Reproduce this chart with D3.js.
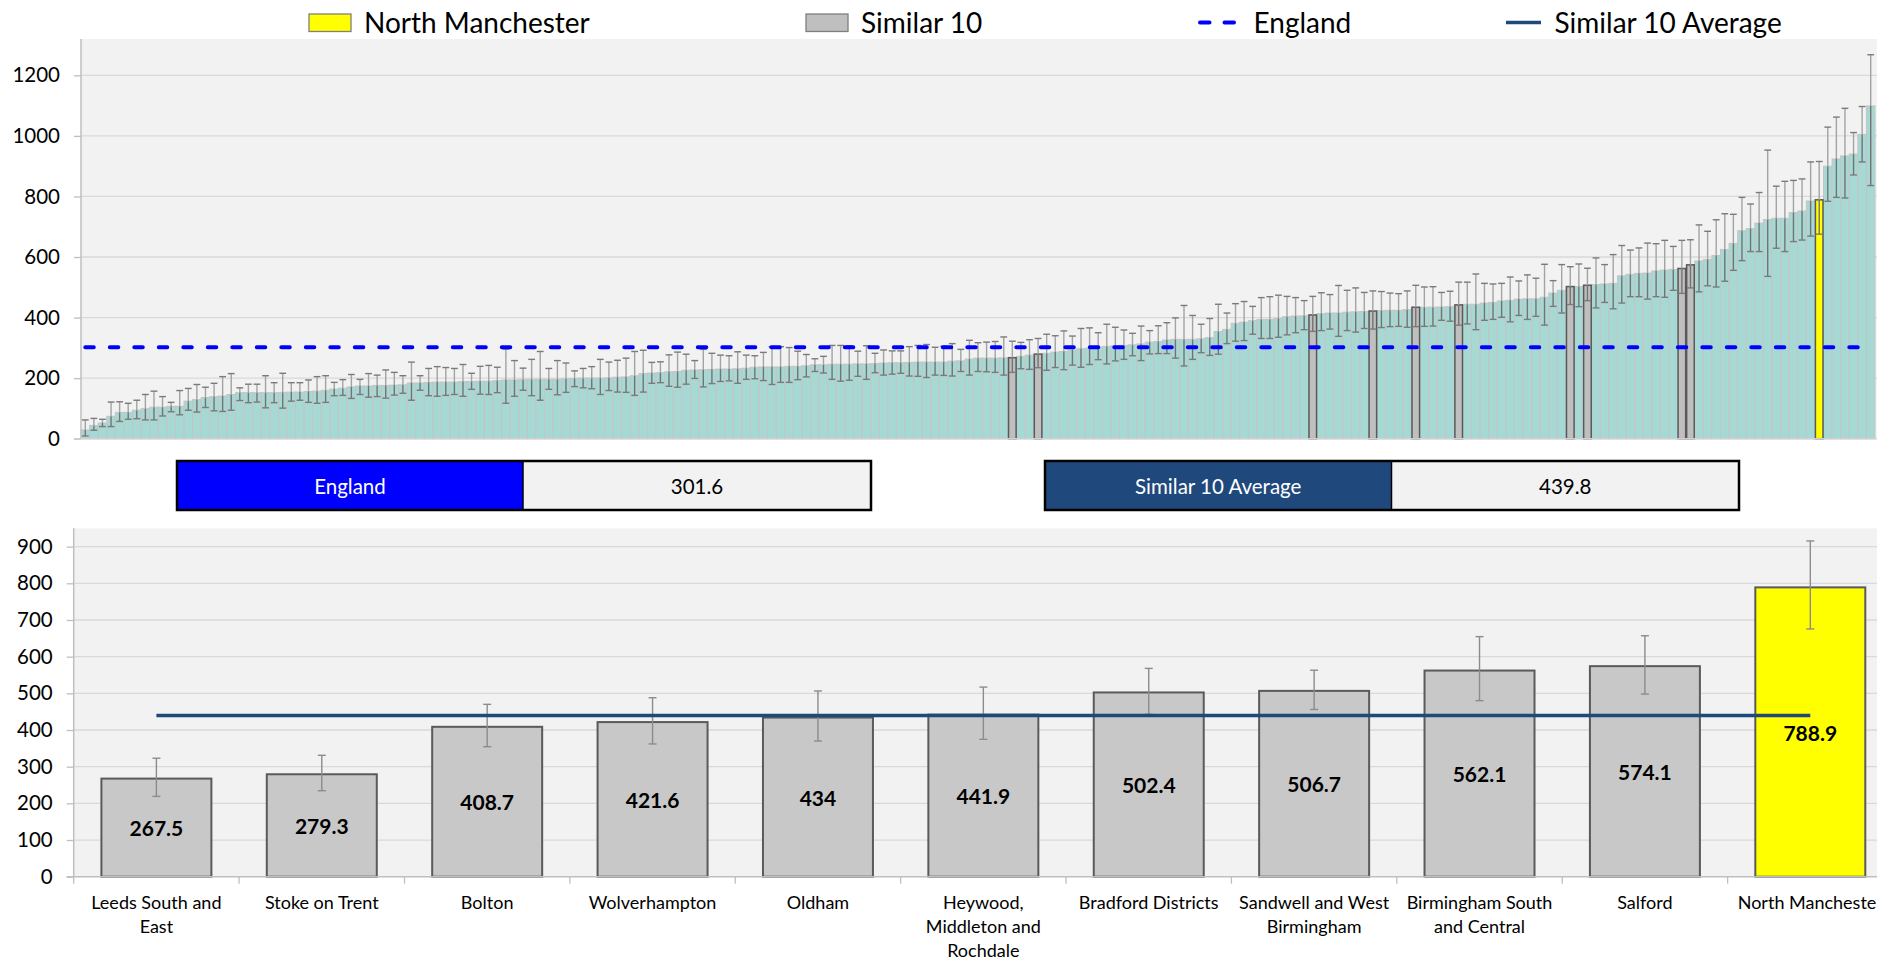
<!DOCTYPE html>
<html><head><meta charset="utf-8">
<script src="https://cdn.jsdelivr.net/npm/d3@7/dist/d3.min.js"></script>
<style>
html,body{margin:0;padding:0;background:#fff;overflow:hidden}
svg{display:block;font-family:Lato,"Open Sans",sans-serif}
</style></head><body>
<svg id="chart" width="1877" height="961"></svg>
<script>
// ---------- DATA ----------
// Top chart: all CCGs ranked ascending (value, upper CI, lower CI)
const rankValues = [29,44,52,74,87,87,94,99,104,104,107,107,124,129,136,139,141,146,152,152,
152,152,152,153,154,154,156,157,160,164,167,171,174,174,176,176,177,178,184,184,
186,187,187,187,189,189,190,190,192,194,194,195,196,196,196,196,198,199,200,200,
200,201,203,204,208,215,217,218,221,222,226,227,228,229,230,230,231,233,236,237,
237,237,239,239,241,244,244,246,246,246,247,247,248,250,251,251,252,253,253,253,
253,256,257,263,266,266,266,267,267.5,272,276,279.3,282,286,288,293,297,299,302,305,
307,308,310,313,319,321,326,328,328,328,330,334,354,361,381,385,390,394,394,397,
403,405,406,408.7,413,415,415,418,419,420,421.6,423,424,424,426,434,434,434.5,435,436,
441.9,444,444,448,450,455,457,461,462,462,467,481,490,502.4,502.5,506.7,509,511,513,538,
543,546,547,554,557,559,562.1,574.1,587,592,605,625,645,687,694,712,724,728,728,747,
752,785,788.9,900,924,934,940,1005,1099];
const rankUpper = [62,67,64,121,122,117,127,146,157,139,120,159,166,179,170,183,205,215,168,180,
180,208,185,216,185,185,194,205,208,186,195,212,196,215,210,227,219,208,253,208,
232,238,235,232,245,216,239,242,236,296,258,233,262,288,232,258,250,224,232,238,
262,253,259,266,288,292,252,254,277,286,279,258,295,282,276,274,287,276,274,285,
304,304,301,289,278,264,272,308,308,307,289,307,282,293,290,290,304,308,311,302,
305,314,295,325,317,319,321,336,322,318,327,331,345,340,356,339,364,366,350,378,
368,359,348,372,357,373,383,399,440,407,378,397,444,415,446,453,437,466,469,474,
470,466,456,470,482,476,506,490,498,483,488,486,481,479,488,506.5,501,502,483,487,
517,517,544,513,511,513,534,521,541,530,576,522,575,568,577,563,597,575,608,638,
623,630,646,644,655,635,655,657,706,685,723,743,741,797,775,813,953,834,850,853,
858,914,915.5,1029,1062,1091,1011,1097,1268];
const rankLower = [9,28,40,40,57,64,66,62,62,75,89,79,94,88,103,92,90,94,126,119,
121,102,119,101,124,127,120,117,120,142,143,133,146,137,139,134,144,150,127,160,
142,140,143,146,140,163,147,146,152,117,140,160,142,127,163,145,153,172,168,165,
146,159,154,153,143,154,183,185,173,170,180,199,171,182,189,191,183,196,198,192,
179,186,186,195,204,222,217,196,190,193,206,196,218,210,213,216,207,206,202,210,
209,207,222,210,222,221,219,210,219,231,229,234.5,226,235,228,243,236,245,261,247,
257,262,274,258,280,281,281,266,240,262,284,275,279,314,322,324,345,331,331,335,
343,350,360,354.5,357,362,338,357,352,364,362,367,370,371,368,370,371,372,391,388,
375,379,360,391,394,401,386,407,394,404,375,437,415,443,436,456,432,450,429,448,
469,469,461,469,467,490,480,498,485,505,501,520,556,588,618,618,536,629,618,651,
656,669,675.5,784,797,795,871,914,836];
const similarRanks = [108,111,143,150,155,160,173,175,186,187];
const focusRank = 202;
const topTicks = [0,200,400,600,800,1000,1200];

// Bottom chart: Similar 10 + North Manchester
const peerNames = ["Leeds South and East","Stoke on Trent","Bolton","Wolverhampton","Oldham",
  "Heywood, Middleton and Rochdale","Bradford Districts","Sandwell and West Birmingham",
  "Birmingham South and Central","Salford","North Manchester"];
const peerLabelLines = [["Leeds South and","East"],["Stoke on Trent"],["Bolton"],["Wolverhampton"],["Oldham"],
  ["Heywood,","Middleton and","Rochdale"],["Bradford Districts"],["Sandwell and West","Birmingham"],
  ["Birmingham South","and Central"],["Salford"],["North Manchester"]];
const peerValues = [267.5,279.3,408.7,421.6,434,441.9,502.4,506.7,562.1,574.1,788.9];
const peerUpper  = [323,331,470,488,506.5,517,568,563,654.6,657,915.5];
const peerLower  = [219,234.5,354.5,362,370,374.6,443,456,480,498,675.5];
const bottomTicks = [0,100,200,300,400,500,600,700,800,900];

const englandValue = 301.6;
const similarAverage = 439.8;
const legendLabels = ["North Manchester","Similar 10","England","Similar 10 Average"];

// ---------- DRAW ----------
const svg = d3.select("#chart");
const W = 1877;

// ===== TOP CHART =====
const tL = 81, tR = 1875, tTop = 39, tBot = 438.7;
const topX = d3.scaleBand().domain(rankValues.map((d,i)=>i)).range([tL,tR]).padding(0);
const topY = d3.scaleLinear().domain([0,1320]).range([tBot,tTop]);
const bw = topX.bandwidth();

svg.append("rect").attr("x",tL).attr("y",tTop).attr("width",W-tL).attr("height",tBot-tTop).attr("fill","#f2f2f2");
svg.append("g").selectAll("line").data(topTicks.slice(1)).join("line")
  .attr("x1",tL).attr("x2",W).attr("y1",d=>topY(d)).attr("y2",d=>topY(d))
  .attr("stroke","#d9d9d9").attr("stroke-width",1.3);

svg.append("g").selectAll("rect").data(rankValues).join("rect")
  .attr("x",(d,i)=>topX(i)).attr("y",d=>topY(d)).attr("width",bw).attr("height",d=>topY(0)-topY(d))
  .attr("fill","#a7d9d4").attr("stroke","#c4c4c4").attr("stroke-width",1);

const hl = similarRanks.concat([focusRank]);
svg.append("g").selectAll("rect").data(hl).join("rect")
  .attr("x",i=>topX(i)+0.5).attr("y",i=>topY(rankValues[i])).attr("width",bw-1)
  .attr("height",i=>topY(0)-topY(rankValues[i]))
  .attr("fill",i=>i===focusRank?"#ffff00":"#bfbfbf").attr("stroke","#5a5a5a").attr("stroke-width",1.5);

// error bars
const eb = svg.append("g");
rankValues.forEach((v,i)=>{
  const cx = topX(i)+bw/2;
  const yU = topY(rankUpper[i]), yL = topY(rankLower[i]), yV = topY(v);
  eb.append("line").attr("x1",cx).attr("x2",cx).attr("y1",yL).attr("y2",yV).attr("stroke","#737373").attr("stroke-width",1.4);
  eb.append("line").attr("x1",cx).attr("x2",cx).attr("y1",yV).attr("y2",yU).attr("stroke","#a3a3a3").attr("stroke-width",1.4);
  [yU,yL].forEach(y=>eb.append("line").attr("x1",cx-3.4).attr("x2",cx+3.4).attr("y1",y).attr("y2",y)
     .attr("stroke","#7a7a7a").attr("stroke-width",1.4));
});

// England line
svg.append("line").attr("x1",topX(0)+bw/2).attr("x2",topX(rankValues.length-1)+bw/2)
  .attr("y1",topY(englandValue)).attr("y2",topY(englandValue))
  .attr("stroke","#0000ff").attr("stroke-width",4).attr("stroke-dasharray","8.5,16").attr("stroke-linecap","round");

// axes
const tAxis = svg.append("g").attr("transform",`translate(${tL},0)`)
  .call(d3.axisLeft(topY).tickValues(topTicks).tickSize(7).tickPadding(14).tickFormat(d3.format("d")));
tAxis.select(".domain").attr("stroke","#bfbfbf").attr("stroke-width",1.5).attr("d",`M0,${tTop}V${tBot}`);
tAxis.selectAll(".tick line").attr("stroke","#bfbfbf").attr("stroke-width",1.3);
tAxis.selectAll(".tick text").attr("font-size",20.5).attr("fill","#000").attr("font-family","Lato");
svg.append("line").attr("x1",tL-7).attr("x2",W).attr("y1",tBot).attr("y2",tBot).attr("stroke","#d0d0d0").attr("stroke-width",1.5);

// legend
const lg = svg.append("g").attr("font-size",28).attr("fill","#000");
lg.append("rect").attr("x",309).attr("y",14).attr("width",42).attr("height",17.5).attr("fill","#ffff00").attr("stroke","#7f7f7f").attr("stroke-width",1.3);
lg.append("text").attr("x",364).attr("y",22).attr("dominant-baseline","central").text(legendLabels[0]);
lg.append("rect").attr("x",806).attr("y",14).attr("width",42).attr("height",17.5).attr("fill","#bfbfbf").attr("stroke","#7f7f7f").attr("stroke-width",1.3);
lg.append("text").attr("x",861).attr("y",22).attr("dominant-baseline","central").text(legendLabels[1]);
lg.append("line").attr("x1",1200).attr("x2",1236).attr("y1",22.5).attr("y2",22.5).attr("stroke","#0000ff").attr("stroke-width",4)
  .attr("stroke-dasharray","9.5,15").attr("stroke-linecap","round");
lg.append("text").attr("x",1253.5).attr("y",22).attr("dominant-baseline","central").text(legendLabels[2]);
lg.append("line").attr("x1",1506).attr("x2",1541).attr("y1",22.5).attr("y2",22.5).attr("stroke","#1f497d").attr("stroke-width",3.5);
lg.append("text").attr("x",1554.5).attr("y",22).attr("dominant-baseline","central").text(legendLabels[3]);

// info boxes
function infoBox(x0, xm, x1, fill, label, value){
  const g = svg.append("g");
  g.append("rect").attr("x",x0).attr("y",461).attr("width",xm-x0).attr("height",49).attr("fill",fill);
  g.append("rect").attr("x",xm).attr("y",461).attr("width",x1-xm).attr("height",49).attr("fill","#f2f2f2");
  g.append("rect").attr("x",x0).attr("y",461).attr("width",x1-x0).attr("height",49).attr("fill","none").attr("stroke","#000").attr("stroke-width",2.5);
  g.append("line").attr("x1",xm).attr("x2",xm).attr("y1",461).attr("y2",510).attr("stroke","#000").attr("stroke-width",1.5);
  g.append("text").attr("x",(x0+xm)/2).attr("y",486).attr("text-anchor","middle").attr("dominant-baseline","central")
    .attr("font-size",20.5).attr("fill","#fff").text(label);
  g.append("text").attr("x",(xm+x1)/2).attr("y",486).attr("text-anchor","middle").attr("dominant-baseline","central")
    .attr("font-size",20.5).attr("fill","#000").text(value);
}
infoBox(177,523,871,"#0000ff","England",englandValue);
infoBox(1045,1391.5,1739,"#1f497d","Similar 10 Average",similarAverage);

// ===== BOTTOM CHART =====
const bL = 73.7, bR = 1893, bTop = 528.3, bBot = 876.7;
const botX = d3.scaleBand().domain(peerNames).range([bL,bR]).paddingInner(0.335).paddingOuter(0.1675);
const botY = d3.scaleLinear().domain([0,950]).range([bBot,bTop]);
const step = botX.step();

svg.append("rect").attr("x",bL).attr("y",bTop).attr("width",W-bL).attr("height",bBot-bTop).attr("fill","#f2f2f2");
svg.append("g").selectAll("line").data(bottomTicks.slice(1)).join("line")
  .attr("x1",bL).attr("x2",W).attr("y1",d=>botY(d)).attr("y2",d=>botY(d))
  .attr("stroke","#d9d9d9").attr("stroke-width",1.3);

svg.append("g").selectAll("rect").data(peerValues).join("rect")
  .attr("x",(d,i)=>botX(peerNames[i])).attr("y",d=>botY(d)).attr("width",botX.bandwidth())
  .attr("height",d=>botY(0)-botY(d))
  .attr("fill",(d,i)=>i===peerValues.length-1?"#ffff00":"#c8c8c8")
  .attr("stroke","#5a5a5a").attr("stroke-width",2);

// error bars bottom
const eb2 = svg.append("g").attr("stroke","#8c8c8c").attr("stroke-width",1.4);
peerValues.forEach((v,i)=>{
  const cx = botX(peerNames[i])+botX.bandwidth()/2;
  eb2.append("line").attr("x1",cx).attr("x2",cx).attr("y1",botY(peerLower[i])).attr("y2",botY(peerUpper[i]));
  [peerUpper[i],peerLower[i]].forEach(e=>eb2.append("line").attr("x1",cx-4).attr("x2",cx+4).attr("y1",botY(e)).attr("y2",botY(e)));
});

// average line
svg.append("line").attr("x1",botX(peerNames[0])+botX.bandwidth()/2).attr("x2",botX(peerNames[peerNames.length-1])+botX.bandwidth()/2)
  .attr("y1",botY(similarAverage)).attr("y2",botY(similarAverage)).attr("stroke","#1f497d").attr("stroke-width",3.5);

// value labels
svg.append("g").selectAll("text").data(peerValues).join("text")
  .attr("x",(d,i)=>botX(peerNames[i])+botX.bandwidth()/2).attr("y",d=>(botY(d)+botY(0))/2)
  .attr("text-anchor","middle").attr("dominant-baseline","central").attr("font-weight","bold").attr("font-size",21)
  .attr("fill","#000").text(d=>d);

// axes bottom
const bAxis = svg.append("g").attr("transform",`translate(${bL},0)`)
  .call(d3.axisLeft(botY).tickValues(bottomTicks).tickSize(7).tickPadding(14).tickFormat(d3.format("d")));
bAxis.select(".domain").attr("stroke","#bfbfbf").attr("stroke-width",1.5).attr("d",`M0,${bTop}V${bBot}`);
bAxis.selectAll(".tick line").attr("stroke","#bfbfbf").attr("stroke-width",1.3);
bAxis.selectAll(".tick text").attr("font-size",20.5).attr("fill","#000").attr("font-family","Lato");
svg.append("line").attr("x1",bL-7).attr("x2",W).attr("y1",bBot).attr("y2",bBot).attr("stroke","#bfbfbf").attr("stroke-width",1.5);
svg.append("g").selectAll("line").data(peerNames).join("line")
  .attr("x1",d=>botX(d)-step*0.1675).attr("x2",d=>botX(d)-step*0.1675).attr("y1",bBot).attr("y2",bBot+7)
  .attr("stroke","#bfbfbf").attr("stroke-width",1.3);

// category labels
const cl = svg.append("g").attr("font-size",18).attr("fill","#000");
peerNames.forEach((n,i)=>{
  const cx = botX(n)+botX.bandwidth()/2;
  peerLabelLines[i].forEach((ln,j)=>{
    cl.append("text").attr("x",cx).attr("y",902+j*24).attr("text-anchor","middle").attr("dominant-baseline","central").text(ln);
  });
});
</script>
</body></html>
